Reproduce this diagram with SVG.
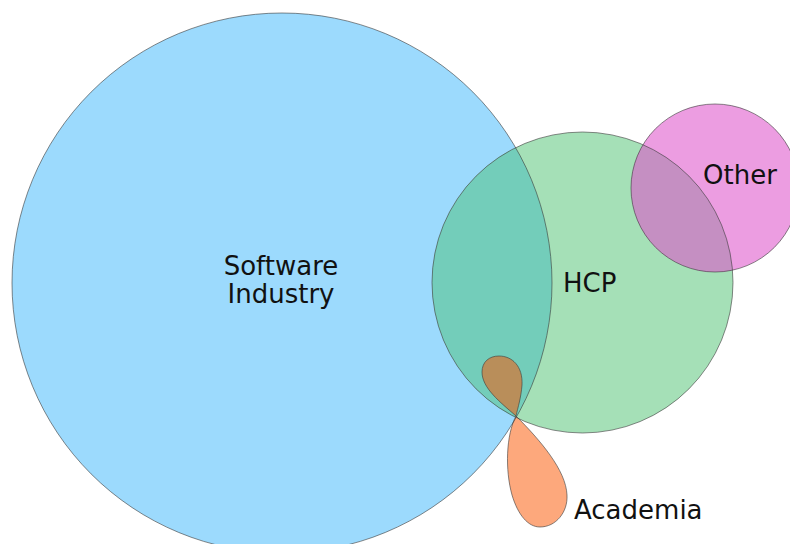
<svg xmlns="http://www.w3.org/2000/svg" width="790" height="544" viewBox="0 0 790 544">
<style>
.ol{fill:none;stroke:#3a3a3a;stroke-opacity:0.6;stroke-width:1}
.lbl{font-family:"DejaVu Sans",Verdana,sans-serif;font-size:26px;fill:#111}
</style>
<defs>
<clipPath id="cHCP"><circle cx="582.5" cy="282.5" r="150.5"/></clipPath>
</defs>
<rect width="790" height="544" fill="#ffffff"/>
<g id="software">
<circle cx="282" cy="283" r="270" fill="#9CDAFD"/>
</g>
<g id="hcp">
<circle cx="582.5" cy="282.5" r="150.5" fill="#A5E0B7"/>
<circle cx="282" cy="283" r="270" fill="#73CDBA" clip-path="url(#cHCP)"/>
</g>
<g id="other">
<circle cx="715" cy="188" r="84" fill="#EC9DE1"/>
<circle cx="715" cy="188" r="84" fill="#C58FC2" clip-path="url(#cHCP)"/>
</g>
<g id="academia">
<path d="M516,416 C506,435 505,470 512,495 C518,515 528,527 540,527 C556,527 568,512 567,495 C566,470 540,440 516,416 Z" fill="#FDA87C" stroke="#3a3a3a" stroke-opacity="0.6"/>
<path d="M516,416 C500,402 482,388 482,372 C482,362 489,356 499,356 C512,356 523,366 522,385 C521,398 518,407 516,416 Z" fill="#B98E5A" stroke="#3a3a3a" stroke-opacity="0.6"/>
</g>
<g id="outlines">
<circle class="ol" cx="282" cy="283" r="270"/>
<circle class="ol" cx="582.5" cy="282.5" r="150.5"/>
<circle class="ol" cx="715" cy="188" r="84"/>
</g>
<g id="labels">
<text class="lbl" x="281" y="275" text-anchor="middle">Software</text>
<text class="lbl" x="281" y="303" text-anchor="middle">Industry</text>
<text class="lbl" x="563" y="292">HCP</text>
<text class="lbl" x="703" y="184">Other</text>
<text class="lbl" x="574" y="519">Academia</text>
</g>
</svg>
